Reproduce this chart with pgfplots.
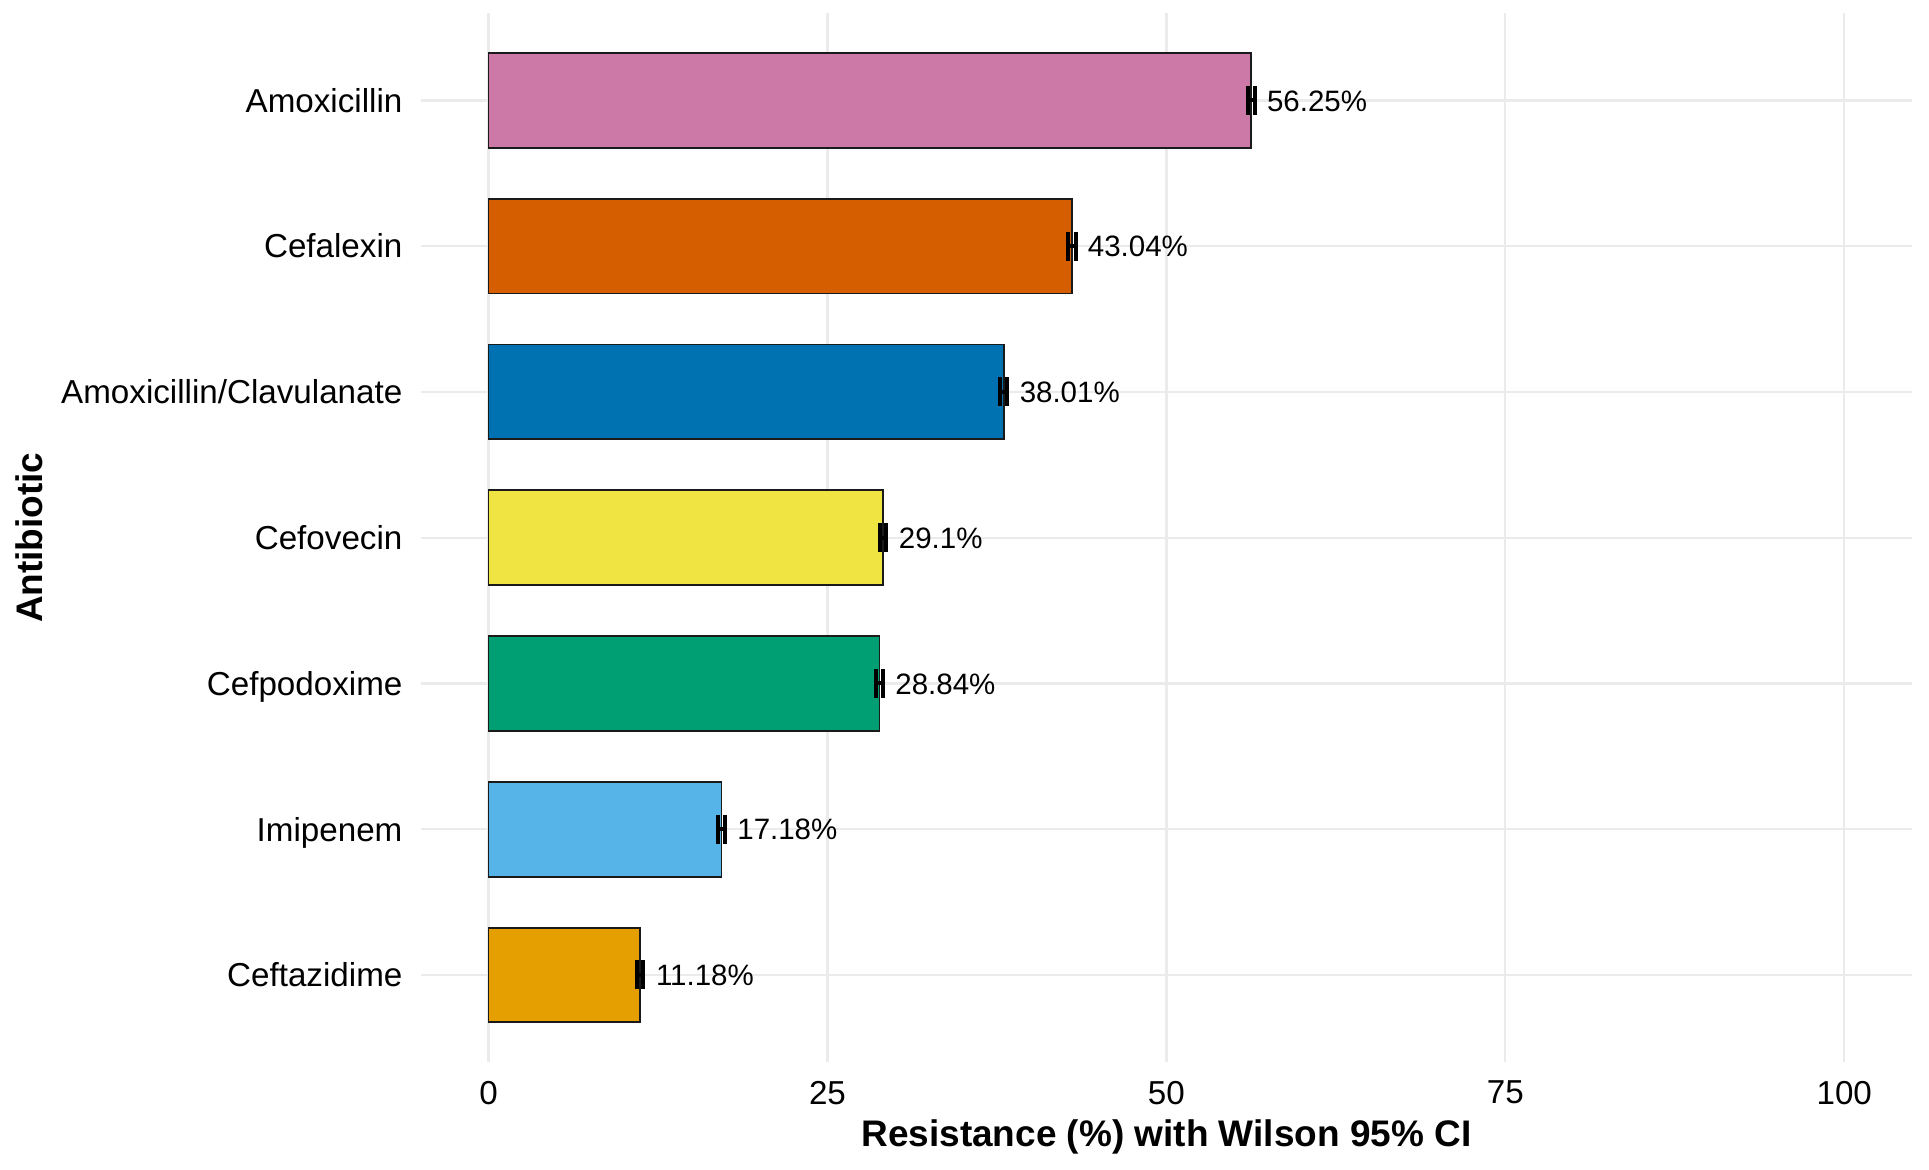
\documentclass[border=0pt]{standalone}
\usepackage{fontspec}
\setmainfont{Liberation Sans}
\usepackage{pgfplots}
\pgfplotsset{compat=1.18}
\definecolor{cAmox}{HTML}{CC79A7}
\definecolor{cCefa}{HTML}{D55E00}
\definecolor{cAmcl}{HTML}{0072B2}
\definecolor{cCefo}{HTML}{F0E442}
\definecolor{cCefp}{HTML}{009E73}
\definecolor{cImip}{HTML}{56B4E9}
\definecolor{cCeft}{HTML}{E69F00}
\definecolor{gridc}{HTML}{EBEBEB}
\definecolor{bord}{HTML}{1A1A1A}
\pgfplotsset{
  mybar/.style={fill=#1, draw=bord, line width=0.9pt},
  myerr/.style={error bars/.cd, x dir=both, x explicit,
    error bar style={line width=2pt, black},
    error mark options={rotate=90, line width=2pt, mark size=7.25pt, black}},
}
\begin{document}
\begin{tikzpicture}
\begin{axis}[
  at={(0,0)}, anchor=south west,
  scale only axis, width=746pt, height=525pt,
  xmin=-5, xmax=105, ymin=0.4, ymax=7.6,
  xtick={0,25,50,75,100},
  ytick={1,2,3,4,5,6,7},
  yticklabels={Ceftazidime,Imipenem,Cefpodoxime,Cefovecin,Amoxicillin/Clavulanate,Cefalexin,Amoxicillin},
  axis line style={draw=none},
  major tick length=0pt,
  minor tick num=0,
  xmajorgrids, ymajorgrids,
  grid style={color=gridc, line width=1.1pt},
  tick label style={font=\fontsize{16.6}{18}\selectfont, color=black},
  /pgf/number format/assume math mode=true,
  xticklabel style={anchor=north, inner sep=0pt, yshift=-9pt},
  yticklabel style={anchor=base east, inner sep=0pt, xshift=-9pt, yshift=-5.9pt},
  xlabel={Resistance (\%) with Wilson 95\% CI},
  ylabel={Antibiotic},
  xlabel style={at={(axis description cs:0.5,-0.07971)}, anchor=base, inner sep=0pt, font=\fontsize{18.5}{20}\selectfont\bfseries},
  ylabel style={at={(axis description cs:-0.25335,0.5)}, anchor=base, inner sep=0pt, font=\fontsize{18.5}{20}\selectfont\bfseries},
  xbar, bar width=0.65, bar shift=0pt,
  nodes near coords style={anchor=base west, inner sep=0pt, xshift=7.5pt, yshift=-5.3pt, font=\fontsize{14.75}{16}\selectfont, color=black},
  clip=false,
]
\addplot[mybar=cAmox, nodes near coords={56.25\%}, myerr] coordinates {(56.25,7) +- (0.25,0)};
\addplot[mybar=cCefa, nodes near coords={43.04\%}, myerr] coordinates {(43.04,6) +- (0.27,0)};
\addplot[mybar=cAmcl, nodes near coords={38.01\%}, myerr] coordinates {(38.01,5) +- (0.25,0)};
\addplot[mybar=cCefo, nodes near coords={29.1\%}, myerr] coordinates {(29.1,4) +- (0.25,0)};
\addplot[mybar=cCefp, nodes near coords={28.84\%}, myerr] coordinates {(28.84,3) +- (0.25,0)};
\addplot[mybar=cImip, nodes near coords={17.18\%}, myerr] coordinates {(17.18,2) +- (0.25,0)};
\addplot[mybar=cCeft, nodes near coords={11.18\%}, myerr] coordinates {(11.18,1) +- (0.23,0)};
\end{axis}
\pgfresetboundingbox
\path[use as bounding box] (-210.5pt,-53.5pt) rectangle (754.5pt,531.5pt);
\end{tikzpicture}
\end{document}
